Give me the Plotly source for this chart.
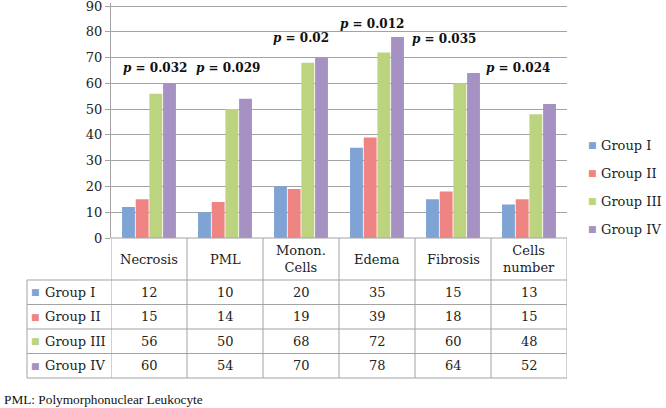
import plotly.graph_objects as go

# ---- data ----
categories = ["Necrosis", "PML", "Monon. Cells", "Edema", "Fibrosis", "Cells number"]
header_labels = ["Necrosis", "PML", "Monon.<br>Cells", "Edema", "Fibrosis", "Cells<br>number"]
series_names = ["Group I", "Group II", "Group III", "Group IV"]
group_i = [12, 10, 20, 35, 15, 13]
group_ii = [15, 14, 19, 39, 18, 15]
group_iii = [56, 50, 68, 72, 60, 48]
group_iv = [60, 54, 70, 78, 64, 52]
p_values = ["0.032", "0.029", "0.02", "0.012", "0.035", "0.024"]
y_ticks = list(range(0, 91, 10))
caption = "PML: Polymorphonuclear Leukocyte"

# ---- layout / style (not data) ----
series_values = [group_i, group_ii, group_iii, group_iv]
colors = ["#7FA3D5", "#EE8583", "#BCD47F", "#A692C2"]
p_label_y = [66, 66, 77.6, 83, 77.2, 66]
p_label_xshift = [6, 3, 0, -5, -9, -11]

W, H = 666, 408
def fx(p):
    return p / W
def fy(p):
    return 1 - p / H

Y_MAX = 91
PLOT_L, PLOT_R, PLOT_B = 111, 567, 238
PX_PER_UNIT = (238 - 6) / 90
PLOT_T = PLOT_B - Y_MAX * PX_PER_UNIT
TABLE_L = 27
HEADER_B = 280
ROW_H = 24.5
TABLE_B = HEADER_B + ROW_H * len(series_names)
LINE = "#A3A3A3"
FONT = "DejaVu Serif"
TXT = "#222222"

x_idx = list(range(len(categories)))

fig = go.Figure()
for name, vals, col in zip(series_names, series_values, colors):
    fig.add_trace(go.Bar(x=x_idx, y=vals, name=name, marker=dict(color=col, line=dict(width=0)),
                         showlegend=False, hovertemplate=name + ": %{y}<extra></extra>"))

shapes = []
# table top border (zero line)
shapes.append(dict(type="line", xref="paper", yref="paper", x0=fx(PLOT_L), x1=fx(PLOT_R),
                   y0=fy(PLOT_B), y1=fy(PLOT_B), line=dict(color=LINE, width=1)))
# row lines
for k in range(len(series_names) + 1):
    yy = fy(HEADER_B + k * ROW_H)
    shapes.append(dict(type="line", xref="paper", yref="paper", x0=fx(TABLE_L), x1=fx(PLOT_R),
                       y0=yy, y1=yy, line=dict(color=LINE, width=1)))
# left border of label column
shapes.append(dict(type="line", xref="paper", yref="paper", x0=fx(TABLE_L), x1=fx(TABLE_L),
                   y0=fy(HEADER_B), y1=fy(TABLE_B), line=dict(color=LINE, width=1)))
# column borders
for i in range(len(categories) + 1):
    shapes.append(dict(type="line", xref="x", yref="paper", x0=i - 0.5, x1=i - 0.5,
                       y0=fy(PLOT_B), y1=fy(TABLE_B), line=dict(color=LINE, width=1)))

ann = []
# header labels
for i, lab in enumerate(header_labels):
    ann.append(dict(xref="x", yref="paper", x=i, y=fy((PLOT_B + HEADER_B) / 2), text=lab,
                    showarrow=False, xanchor="center", yanchor="middle",
                    font=dict(family=FONT, size=13, color=TXT)))
# cell values and row labels
for r, (name, vals, col) in enumerate(zip(series_names, series_values, colors)):
    yc = fy(HEADER_B + (r + 0.5) * ROW_H)
    for i, v in enumerate(vals):
        ann.append(dict(xref="x", yref="paper", x=i, y=yc, text=str(v), showarrow=False,
                        xanchor="center", yanchor="middle", font=dict(family=FONT, size=13, color=TXT)))
    ann.append(dict(xref="paper", yref="paper", x=fx(35), y=yc, text="■", showarrow=False,
                    xanchor="center", yanchor="middle", font=dict(family=FONT, size=9, color=col)))
    ann.append(dict(xref="paper", yref="paper", x=fx(43), y=yc, text=name, showarrow=False,
                    xanchor="left", yanchor="middle", font=dict(family=FONT, size=13, color=TXT)))
    # legend
    yl = fy(145 + 28 * r)
    ann.append(dict(xref="paper", yref="paper", x=fx(592), y=yl, text="■", showarrow=False,
                    xanchor="center", yanchor="middle", font=dict(family=FONT, size=9, color=col)))
    ann.append(dict(xref="paper", yref="paper", x=fx(599), y=yl, text=name, showarrow=False,
                    xanchor="left", yanchor="middle", font=dict(family=FONT, size=13, color=TXT)))
# p-value labels
for i, (pv, py, sh) in enumerate(zip(p_values, p_label_y, p_label_xshift)):
    ann.append(dict(xref="x", yref="y", x=i, y=py, xshift=sh, text="<b><i>p</i> = " + pv + "</b>",
                    showarrow=False, xanchor="center", yanchor="middle",
                    font=dict(family=FONT, size=12, color="#111111")))
# caption
ann.append(dict(xref="paper", yref="paper", x=fx(2), y=fy(399), text=caption, showarrow=False,
                xanchor="left", yanchor="middle",
                font=dict(family="Liberation Serif", size=13.3, color="#111111")))

fig.update_layout(
    width=W, height=H,
    margin=dict(l=0, r=0, t=0, b=0, autoexpand=False),
    paper_bgcolor="white", plot_bgcolor="white",
    barmode="group", bargap=0.28, bargroupgap=0.06,
    font=dict(family=FONT, size=13, color=TXT),
    xaxis=dict(domain=[fx(PLOT_L), fx(PLOT_R)], range=[-0.5, len(categories) - 0.5],
               showticklabels=False, showgrid=False, zeroline=False, showline=False, ticks="",
               automargin=False),
    yaxis=dict(domain=[fy(PLOT_B), fy(PLOT_T)], range=[0, Y_MAX], tickvals=y_ticks,
               showgrid=True, gridcolor=LINE, gridwidth=1, zeroline=False,
               showline=True, linecolor=LINE, linewidth=1,
               ticks="outside", ticklen=5, tickcolor=LINE, automargin=False,
               ticklabeloverflow="allow",
               tickfont=dict(family=FONT, size=13, color=TXT)),
    shapes=shapes, annotations=ann, showlegend=False,
)

fig.write_html("out.html", config={"displayModeBar": False},
               post_script="document.body.style.margin='0';document.body.style.overflow='hidden';")
